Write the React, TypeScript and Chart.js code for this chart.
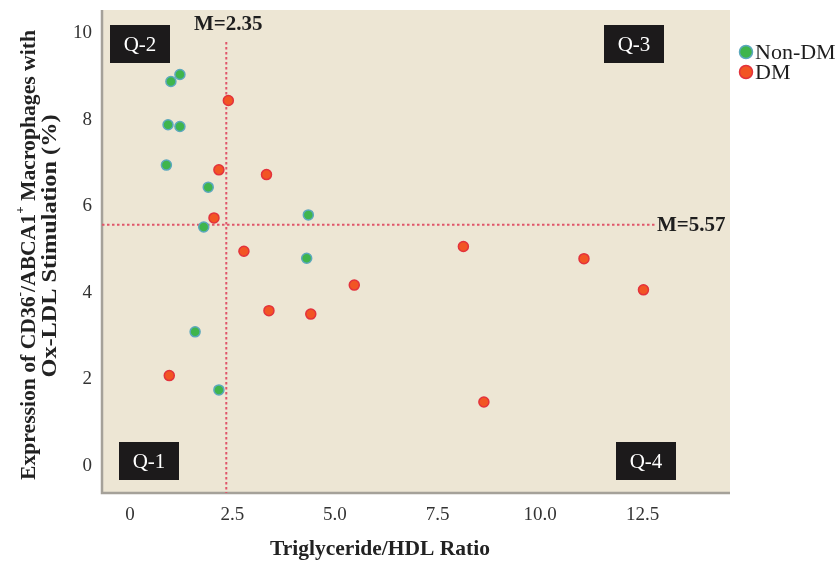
import React, { useEffect, useRef } from "react";
import { Chart, registerables } from "chart.js";

Chart.register(...registerables);

// ---- data ----
const nonDmX = [1.22, 1.0, 0.93, 1.22, 0.89, 1.91, 1.8, 4.35, 4.31, 1.59, 2.17];
const nonDmY = [9.04, 8.88, 7.88, 7.84, 6.95, 6.44, 5.52, 5.8, 4.8, 3.1, 1.76];
const dmX = [2.4, 2.17, 3.33, 2.05, 2.78, 5.47, 3.39, 4.41, 0.96, 8.13, 11.07, 12.52, 8.63];
const dmY = [8.44, 6.84, 6.73, 5.73, 4.96, 4.18, 3.59, 3.51, 2.09, 5.07, 4.79, 4.07, 1.48];
const xTicks = [0, 2.5, 5, 7.5, 10, 12.5];
const xTickLabels = ["0", "2.5", "5.0", "7.5", "10.0", "12.5"];
const yTicks = [0, 2, 4, 6, 8, 10];
const yTickLabels = ["0", "2", "4", "6", "8", "10"];
const medianX = 2.35;
const medianY = 5.57;
const seriesNames = ["Non-DM", "DM"];
const quadrantLabels = ["Q-1", "Q-2", "Q-3", "Q-4"];
const xTitle = "Triglyceride/HDL Ratio";

const SERIF = "'Liberation Serif', 'Times New Roman', serif";
const GREEN = "#3fb54c";
const GREEN_EDGE = "#5ba8bd";
const RED = "#f25524";
const RED_EDGE = "#e3323c";
const LINE = "#e0566a";

type Seg = { t: string; sup?: boolean };

function drawRich(ctx: CanvasRenderingContext2D, segs: Seg[], cx: number, cy: number, size: number, targetW: number) {
  const big = `bold ${size}px ${SERIF}`;
  const small = `bold ${Math.round(size * 0.62)}px ${SERIF}`;
  let w = 0;
  for (const s of segs) {
    ctx.font = s.sup ? small : big;
    w += ctx.measureText(s.t).width;
  }
  const k = targetW / w;
  ctx.save();
  ctx.translate(cx, cy);
  ctx.scale(k, 1);
  let x = -w / 2;
  ctx.textAlign = "left";
  ctx.textBaseline = "middle";
  for (const s of segs) {
    ctx.font = s.sup ? small : big;
    ctx.fillText(s.t, x, s.sup ? -size * 0.38 : 0);
    x += ctx.measureText(s.t).width;
  }
  ctx.restore();
}

const decorPlugin = {
  id: "decor",
  beforeDraw(chart: any) {
    const { ctx, chartArea: a } = chart;
    ctx.save();
    ctx.fillStyle = "#ede6d4";
    ctx.fillRect(a.left, a.top, a.right - a.left, a.bottom - a.top);
    ctx.restore();
  },
  beforeDatasetsDraw(chart: any) {
    const { ctx, chartArea: a, scales } = chart;
    const xs = scales.x;
    const ys = scales.y;
    const mx = xs.getPixelForValue(medianX);
    const my = ys.getPixelForValue(medianY);
    ctx.save();
    // border
    ctx.strokeStyle = "#a5a199";
    ctx.lineWidth = 2.5;
    ctx.beginPath();
    ctx.moveTo(a.left, a.top);
    ctx.lineTo(a.left, a.bottom);
    ctx.lineTo(a.right, a.bottom);
    ctx.stroke();
    // median lines
    ctx.strokeStyle = LINE;
    ctx.lineWidth = 2;
    ctx.setLineDash([2.5, 2.5]);
    ctx.beginPath();
    ctx.moveTo(mx, a.top + 32);
    ctx.lineTo(mx, a.bottom);
    ctx.moveTo(a.left, my);
    ctx.lineTo(a.right - 75, my);
    ctx.stroke();
    ctx.setLineDash([]);
    // median labels
    ctx.fillStyle = "#1e1e1e";
    ctx.font = `bold 21px ${SERIF}`;
    ctx.textBaseline = "alphabetic";
    ctx.textAlign = "center";
    ctx.fillText(`M=${medianX}`, mx + 2, a.top + 20);
    ctx.textAlign = "left";
    ctx.textBaseline = "middle";
    ctx.fillText(`M=${medianY}`, a.right - 73, my + 1);
    // quadrant boxes
    const boxes = [
      [a.left + 17, a.bottom - 51],
      [a.left + 8, a.top + 15],
      [a.right - 126, a.top + 15],
      [a.right - 114, a.bottom - 51],
    ];
    ctx.font = `21px ${SERIF}`;
    ctx.textAlign = "center";
    ctx.textBaseline = "middle";
    boxes.forEach(([bx, by], i) => {
      ctx.fillStyle = "#1c1a1b";
      ctx.fillRect(bx, by, 60, 38);
      ctx.fillStyle = "#ffffff";
      ctx.fillText(quadrantLabels[i], bx + 30, by + 20);
    });
    ctx.restore();
  },
  afterDraw(chart: any) {
    const { ctx } = chart;
    ctx.save();
    // legend
    const items = [
      { name: seriesNames[0], fill: GREEN, edge: GREEN_EDGE, y: 52 },
      { name: seriesNames[1], fill: RED, edge: RED_EDGE, y: 72 },
    ];
    items.forEach((it) => {
      ctx.beginPath();
      ctx.arc(746, it.y, 6.5, 0, Math.PI * 2);
      ctx.fillStyle = it.fill;
      ctx.fill();
      ctx.lineWidth = 1.5;
      ctx.strokeStyle = it.edge;
      ctx.stroke();
      ctx.fillStyle = "#1e1e1e";
      ctx.font = `22px ${SERIF}`;
      ctx.textAlign = "left";
      ctx.textBaseline = "middle";
      ctx.fillText(it.name, 755, it.y + 1);
    });
    // x title
    ctx.fillStyle = "#222";
    ctx.font = `bold 21.5px ${SERIF}`;
    ctx.textAlign = "center";
    ctx.textBaseline = "middle";
    ctx.fillText(xTitle, 380, 549);
    // y title
    ctx.save();
    ctx.translate(29, 255);
    ctx.rotate(-Math.PI / 2);
    drawRich(
      ctx,
      [
        { t: "Expression of CD36" },
        { t: "-", sup: true },
        { t: "/ABCA1" },
        { t: "+", sup: true },
        { t: " Macrophages with" },
      ],
      0,
      0,
      21.5,
      450
    );
    ctx.restore();
    ctx.save();
    ctx.translate(50, 246);
    ctx.rotate(-Math.PI / 2);
    drawRich(ctx, [{ t: "Ox-LDL Stimulation (%)" }], 0, 0, 21.5, 263);
    ctx.restore();
    ctx.restore();
  },
};

export default function App() {
  const ref = useRef<HTMLCanvasElement | null>(null);
  useEffect(() => {
    if (!ref.current) return;
    const chart = new Chart(ref.current, {
      type: "scatter",
      data: {
        datasets: [
          {
            label: seriesNames[0],
            data: nonDmX.map((x, i) => ({ x, y: nonDmY[i] })),
            backgroundColor: GREEN,
            borderColor: GREEN_EDGE,
            borderWidth: 1.5,
            pointRadius: 5,
          },
          {
            label: seriesNames[1],
            data: dmX.map((x, i) => ({ x, y: dmY[i] })),
            backgroundColor: RED,
            borderColor: RED_EDGE,
            borderWidth: 1.5,
            pointRadius: 5,
          },
        ],
      },
      options: {
        responsive: false,
        animation: false,
        layout: { padding: { left: 0, right: 105, top: 10, bottom: 0 } },
        plugins: { legend: { display: false }, tooltip: { enabled: false } },
        scales: {
          x: {
            type: "linear",
            min: -0.68,
            max: 14.63,
            grid: { display: false, drawTicks: false },
            border: { display: false },
            afterBuildTicks: (s: any) => {
              s.ticks = xTicks.map((v) => ({ value: v }));
            },
            afterFit: (s: any) => {
              s.height = 69;
              s.paddingLeft = 0;
              s.paddingRight = 0;
              s.paddingTop = 0;
              s.paddingBottom = 0;
            },
            ticks: {
              autoSkip: false,
              maxRotation: 0,
              padding: 11,
              color: "#333",
              font: { family: SERIF, size: 19 },
              callback: (v: any) => {
                const i = xTicks.indexOf(Number(v));
                return i >= 0 ? xTickLabels[i] : "";
              },
            },
          },
          y: {
            type: "linear",
            min: -0.62,
            max: 10.53,
            grid: { display: false, drawTicks: false },
            border: { display: false },
            afterBuildTicks: (s: any) => {
              s.ticks = yTicks.map((v) => ({ value: v }));
            },
            afterFit: (s: any) => {
              s.width = 102;
              s.paddingLeft = 0;
              s.paddingRight = 0;
              s.paddingTop = 0;
              s.paddingBottom = 0;
            },
            ticks: {
              autoSkip: false,
              padding: 10,
              color: "#333",
              font: { family: SERIF, size: 19, lineHeight: 1 },
              callback: (v: any) => {
                const i = yTicks.indexOf(Number(v));
                return i >= 0 ? yTickLabels[i] : "";
              },
            },
          },
        },
      },
      plugins: [decorPlugin],
    } as any);
    return () => chart.destroy();
  }, []);
  return (
    <div style={{ position: "fixed", left: 0, top: 0, width: 835, height: 562, background: "#fff" }}>
      <canvas ref={ref} width={835} height={562} style={{ width: 835, height: 562, display: "block" }} />
    </div>
  );
}
